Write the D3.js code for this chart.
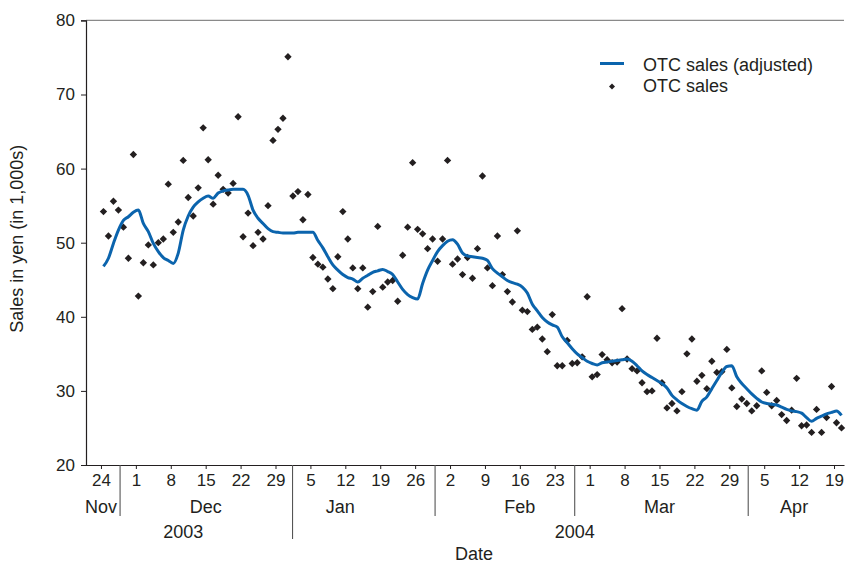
<!DOCTYPE html>
<html>
<head>
<meta charset="utf-8">
<script src="https://cdn.jsdelivr.net/npm/d3@7"></script>
<style>
  body { margin: 0; background: #fff; }
  svg { display: block; font-family: "Liberation Sans", Arial, Helvetica, sans-serif; }
</style>
</head>
<body>
<div id="chart"></div>
<script>
// daily series, first day 24 Nov 2003
var firstDay = Date.UTC(2003, 10, 24);

var otcSales = [
  54.2, 50.9, 55.6, 54.4, 52.1, 47.9, 61.9, 42.8, 47.3, 49.7,
  47.0, 50.0, 50.5, 57.9, 51.4, 52.8, 61.1, 56.1, 53.6, 57.4,
  65.5, 61.2, 55.2, 59.1, 57.2, 56.7, 58.0, 67.0, 50.8, 54.0,
  49.6, 51.4, 50.5, 55.0, 63.8, 65.3, 66.8, 75.1, 56.3, 56.9,
  53.1, 56.5, 48.0, 47.1, 46.7, 45.1, 43.8, 48.1, 54.2, 50.5,
  46.6, 43.8, 46.6, 41.3, 43.4, 52.2, 44.0, 44.7, 44.9, 42.1,
  48.3, 52.1, 60.8, 51.8, 51.2, 49.2, 50.5, 47.5, 50.5, 61.1,
  47.1, 47.8, 45.7, 48.0, 45.2, 49.2, 59.0, 46.6, 44.2, 50.9,
  45.7, 43.4, 42.0, 51.6, 40.9, 40.7, 38.3, 38.6, 37.0, 35.3,
  40.3, 33.4, 33.4, 36.8, 33.7, 33.8, 34.6, 42.7, 31.9, 32.2,
  34.9, 34.2, 33.8, 33.9, 41.1, 34.3, 33.0, 32.7, 31.1, 29.9,
  30.0, 37.1, 31.1, 27.7, 28.3, 27.3, 29.9, 35.0, 37.0, 31.3,
  32.1, 30.3, 34.0, 32.5, 32.6, 35.6, 30.4, 27.9, 28.9, 28.3,
  27.3, 28.0, 32.7, 29.8, 28.0, 28.7, 26.8, 26.0, 27.4, 31.7,
  25.3, 25.4, 24.4, 27.5, 24.4, 26.4, 30.6, 25.7, 25.0
];

var otcAdjusted = [
  46.8, 47.9, 49.9, 51.7, 53.0, 53.5, 54.1, 54.4, 52.6, 51.5,
  49.9, 48.8, 48.0, 47.6, 47.2, 48.6, 51.7, 53.6, 54.8, 55.5,
  56.0, 56.3, 56.0, 56.7, 57.0, 57.1, 57.2, 57.2, 57.2, 56.4,
  54.4, 53.3, 52.6, 51.9, 51.5, 51.4, 51.3, 51.3, 51.3, 51.4,
  51.4, 51.4, 51.4, 50.3, 49.3, 48.1, 47.0, 46.3, 45.7, 45.3,
  45.1, 44.7, 45.2, 45.6, 46.0, 46.2, 46.4, 46.1, 45.7, 44.7,
  43.7, 43.0, 42.6, 42.4, 44.5, 46.3, 47.6, 48.8, 49.6, 50.2,
  50.4, 49.8, 48.6, 48.2, 48.1, 48.0, 47.9, 47.6, 46.5, 45.9,
  45.4, 44.9, 44.6, 44.4, 44.0, 43.2, 41.7, 40.8, 39.9, 39.3,
  38.9, 38.6, 37.3, 36.5, 35.7, 35.0, 34.5, 34.0, 33.7, 33.5,
  33.8, 33.9, 34.0, 34.1, 34.2, 34.3, 34.0, 33.4, 32.7, 32.2,
  31.8, 31.4, 31.0, 30.4, 29.4, 28.8, 28.3, 27.9, 27.6, 27.4,
  28.6, 29.2, 30.3, 31.4, 32.5, 33.3, 33.4, 31.9, 31.0, 30.3,
  29.6, 29.0, 28.5, 28.3, 28.2, 28.1, 27.8, 27.5, 27.3, 27.2,
  27.0, 26.4, 25.9, 26.3, 26.6, 26.9, 27.1, 27.3, 26.7
];

var yTicks = [20, 30, 40, 50, 60, 70, 80];

var monthNames = ['Nov', 'Dec', 'Jan', 'Feb', 'Mar', 'Apr'];
var monthLabelAt = ['2003-11-24', '2003-12-15', '2004-01-11', '2004-02-16', '2004-03-15', '2004-04-11'];
var monthBreaks = ['2003-11-27T20:00Z', '2004-01-01T10:00Z', '2004-01-30T00:00Z', '2004-02-27T00:00Z', '2004-04-01T19:00Z'];
var yearNames = ['2003', '2004'];
var yearLabelAt = ['2003-12-10T12:00Z', '2004-02-27T00:00Z'];
var yearBreaks = ['2004-01-01T10:00Z'];

var legendNames = ['OTC sales (adjusted)', 'OTC sales'];

var W = 848, H = 563;
var mLeft = 86, mRight = 844, mTop = 20.4, mBottom = 465;
var ink = '#231f20', blue = '#0b64ad';

var svg = d3.select('#chart').append('svg')
  .attr('width', W)
  .attr('height', H);

var x = d3.scaleUtc()
  .domain([new Date(Date.UTC(2003, 10, 21)), new Date(Date.UTC(2004, 3, 21))])
  .range([mLeft, mRight]);

var y = d3.scaleLinear()
  .domain([20, 80])
  .range([mBottom, mTop]);

function dayOf(i) { return d3.utcHour.offset(d3.utcDay.offset(new Date(firstDay), i), 12); }

// top frame line
svg.append('line')
  .attr('x1', mLeft).attr('x2', mRight)
  .attr('y1', mTop).attr('y2', mTop)
  .attr('stroke', '#8a8a8a').attr('stroke-width', 1.2);

// y axis
var yAxis = svg.append('g')
  .attr('transform', 'translate(' + mLeft + ',0)')
  .call(d3.axisLeft(y).tickValues(yTicks).tickSize(5).tickPadding(6));
yAxis.select('.domain').attr('stroke', ink).attr('stroke-width', 1.2);
yAxis.selectAll('.tick line').attr('stroke', ink);
yAxis.selectAll('text').attr('fill', ink).attr('font-size', 17).attr('font-family', null);

// x axis with Monday ticks
var xAxis = svg.append('g')
  .attr('transform', 'translate(0,' + mBottom + ')')
  .call(d3.axisBottom(x).ticks(d3.utcMonday.every(1)).tickFormat(d3.utcFormat('%-d')).tickSize(4).tickPadding(5).tickSizeOuter(0));
xAxis.select('.domain').attr('stroke', ink).attr('stroke-width', 1.2);
xAxis.selectAll('.tick line').attr('stroke', ink);
xAxis.selectAll('text').attr('fill', ink).attr('font-size', 17).attr('font-family', null);

// month / year separators
svg.append('g').selectAll('line')
  .data(monthBreaks)
  .join('line')
  .attr('x1', function(d){ return x(new Date(d)); })
  .attr('x2', function(d){ return x(new Date(d)); })
  .attr('y1', mBottom)
  .attr('y2', function(d){ return yearBreaks.indexOf(d) >= 0 ? 539 : 516; })
  .attr('stroke', '#555').attr('stroke-width', 1.1);

svg.append('g').selectAll('text')
  .data(monthNames)
  .join('text')
  .attr('x', function(d, i){ return x(new Date(monthLabelAt[i] + 'T00:00Z')); })
  .attr('y', 513)
  .attr('text-anchor', 'middle')
  .attr('font-size', 18)
  .attr('fill', ink)
  .text(function(d){ return d; });

svg.append('g').selectAll('text')
  .data(yearNames)
  .join('text')
  .attr('x', function(d, i){ return x(new Date(yearLabelAt[i])); })
  .attr('y', 538)
  .attr('text-anchor', 'middle')
  .attr('font-size', 18)
  .attr('fill', ink)
  .text(function(d){ return d; });

// axis titles
svg.append('text')
  .attr('x', 474).attr('y', 560)
  .attr('text-anchor', 'middle')
  .attr('font-size', 18)
  .attr('fill', ink)
  .text('Date');

svg.append('text')
  .attr('transform', 'translate(23,' + ((mTop + mBottom) / 2 - 4) + ') rotate(-90)')
  .attr('text-anchor', 'middle')
  .attr('font-size', 18)
  .attr('fill', ink)
  .text('Sales in yen (in 1,000s)');

// scatter
var diamond = d3.symbol().type(d3.symbolSquare).size(27);
svg.append('g').selectAll('path')
  .data(otcSales)
  .join('path')
  .attr('d', diamond)
  .attr('transform', function(d, i){ return 'translate(' + x(dayOf(i)) + ',' + y(d) + ') rotate(45)'; })
  .attr('fill', ink);

// adjusted line
var line = d3.line()
  .x(function(d, i){ return x(dayOf(i)); })
  .y(function(d){ return y(d); })
  .curve(d3.curveMonotoneX);

svg.append('path')
  .datum(otcAdjusted)
  .attr('d', line)
  .attr('fill', 'none')
  .attr('stroke', blue)
  .attr('stroke-width', 3)
  .attr('stroke-linejoin', 'round');

// legend
var legend = svg.append('g');
legend.append('line')
  .attr('x1', 600).attr('x2', 624)
  .attr('y1', 63.5).attr('y2', 63.5)
  .attr('stroke', blue).attr('stroke-width', 3);
legend.append('path')
  .attr('d', d3.symbol().type(d3.symbolSquare).size(18))
  .attr('transform', 'translate(612,86.5) rotate(45)')
  .attr('fill', ink);
legend.selectAll('text')
  .data(legendNames)
  .join('text')
  .attr('x', 643)
  .attr('y', function(d, i){ return 70.5 + i * 21; })
  .attr('font-size', 18)
  .attr('fill', ink)
  .text(function(d){ return d; });
</script>
</body>
</html>
